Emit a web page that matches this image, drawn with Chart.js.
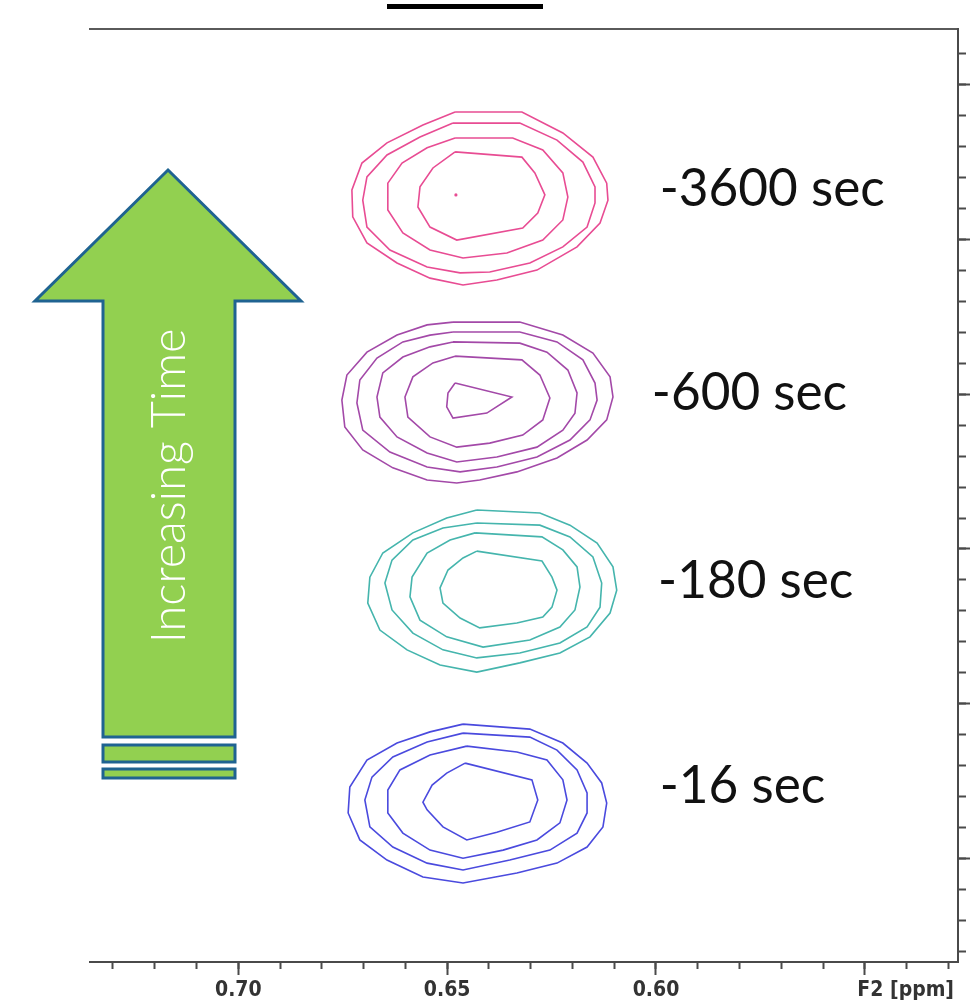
<!DOCTYPE html>
<html lang="en">
<head>
<meta charset="UTF-8" />
<title>F2 contour series</title>
<style>
  html, body { margin: 0; padding: 0; background: #fff; }
  #wrap { width: 971px; height: 1002px; }
</style>
<script src="https://cdn.jsdelivr.net/npm/chart.js"></script>
</head>
<body>
<div id="wrap"><canvas id="nmrChart" width="971" height="1002"></canvas></div>
<script>
// contour rings as [F2 ppm, F1] pairs, outermost ring first
const contours3600 = [
  [[0.6481,1.088],[0.6321,1.088],[0.6223,1.156],[0.6151,1.234],[0.6118,1.318],[0.6115,1.373],[0.6134,1.447],[0.6189,1.524],[0.6285,1.599],[0.6381,1.631],[0.6462,1.647],[0.6541,1.625],[0.6620,1.576],[0.6692,1.511],[0.6726,1.427],[0.6728,1.340],[0.6704,1.253],[0.6644,1.188],[0.6558,1.130]],
  [[0.6486,1.124],[0.6326,1.124],[0.6237,1.179],[0.6175,1.250],[0.6146,1.330],[0.6146,1.382],[0.6165,1.460],[0.6223,1.524],[0.6302,1.576],[0.6398,1.605],[0.6469,1.608],[0.6548,1.589],[0.6637,1.534],[0.6692,1.460],[0.6702,1.373],[0.6692,1.298],[0.6644,1.227],[0.6565,1.169]],
  [[0.6481,1.172],[0.6343,1.172],[0.6271,1.211],[0.6223,1.285],[0.6211,1.363],[0.6223,1.437],[0.6271,1.502],[0.6357,1.544],[0.6462,1.560],[0.6541,1.534],[0.6606,1.479],[0.6642,1.405],[0.6642,1.318],[0.6608,1.253],[0.6548,1.204]],
  [[0.6481,1.217],[0.6321,1.234],[0.6290,1.285],[0.6266,1.356],[0.6283,1.415],[0.6319,1.463],[0.6477,1.502],[0.6541,1.460],[0.6570,1.395],[0.6565,1.330],[0.6534,1.269]]
];
const peak3600 = [[0.6479,1.356]];

const contours600 = [
  [[0.6486,1.767],[0.6326,1.767],[0.6223,1.809],[0.6151,1.867],[0.6110,1.944],[0.6103,2.009],[0.6118,2.083],[0.6165,2.148],[0.6237,2.206],[0.6333,2.251],[0.6422,2.277],[0.6477,2.287],[0.6548,2.277],[0.6630,2.238],[0.6702,2.180],[0.6745,2.106],[0.6752,2.019],[0.6740,1.938],[0.6692,1.864],[0.6620,1.809],[0.6548,1.776]],
  [[0.6486,1.799],[0.6326,1.799],[0.6237,1.831],[0.6175,1.889],[0.6146,1.964],[0.6141,2.019],[0.6158,2.083],[0.6206,2.148],[0.6285,2.203],[0.6381,2.235],[0.6469,2.251],[0.6548,2.235],[0.6637,2.187],[0.6702,2.116],[0.6716,2.028],[0.6709,1.954],[0.6668,1.883],[0.6606,1.831],[0.6541,1.809]],
  [[0.6486,1.831],[0.6326,1.835],[0.6261,1.864],[0.6211,1.922],[0.6189,1.996],[0.6194,2.061],[0.6223,2.116],[0.6285,2.171],[0.6381,2.203],[0.6477,2.219],[0.6548,2.190],[0.6620,2.138],[0.6661,2.074],[0.6668,2.009],[0.6654,1.931],[0.6606,1.880],[0.6541,1.847]],
  [[0.6481,1.877],[0.6321,1.889],[0.6278,1.938],[0.6254,2.012],[0.6271,2.083],[0.6319,2.132],[0.6398,2.158],[0.6477,2.171],[0.6541,2.138],[0.6594,2.074],[0.6601,2.009],[0.6582,1.944],[0.6534,1.899]],
  [[0.6481,1.964],[0.6345,2.009],[0.6405,2.061],[0.6486,2.077],[0.6501,2.041],[0.6498,1.996]]
];

const contours180 = [
  [[0.6429,2.374],[0.6278,2.384],[0.6206,2.423],[0.6141,2.481],[0.6103,2.558],[0.6094,2.633],[0.6110,2.707],[0.6158,2.784],[0.6230,2.836],[0.6326,2.868],[0.6429,2.898],[0.6517,2.875],[0.6596,2.826],[0.6661,2.762],[0.6690,2.675],[0.6685,2.591],[0.6654,2.513],[0.6582,2.448],[0.6501,2.400]],
  [[0.6429,2.416],[0.6278,2.423],[0.6206,2.461],[0.6151,2.526],[0.6130,2.610],[0.6134,2.688],[0.6165,2.752],[0.6230,2.804],[0.6326,2.836],[0.6429,2.852],[0.6510,2.826],[0.6582,2.772],[0.6632,2.697],[0.6649,2.610],[0.6632,2.536],[0.6582,2.471],[0.6510,2.432]],
  [[0.6433,2.448],[0.6273,2.461],[0.6223,2.503],[0.6189,2.558],[0.6182,2.623],[0.6194,2.697],[0.6230,2.752],[0.6302,2.794],[0.6414,2.817],[0.6501,2.784],[0.6565,2.730],[0.6589,2.655],[0.6584,2.591],[0.6548,2.513],[0.6493,2.471]],
  [[0.6429,2.507],[0.6273,2.539],[0.6249,2.591],[0.6237,2.633],[0.6249,2.688],[0.6271,2.720],[0.6333,2.739],[0.6422,2.755],[0.6469,2.723],[0.6510,2.675],[0.6517,2.626],[0.6498,2.568],[0.6462,2.529]]
];

const contours16 = [
  [[0.6462,3.066],[0.6302,3.082],[0.6223,3.127],[0.6165,3.192],[0.6130,3.256],[0.6118,3.321],[0.6127,3.398],[0.6165,3.463],[0.6237,3.515],[0.6333,3.547],[0.6462,3.579],[0.6558,3.560],[0.6644,3.505],[0.6709,3.440],[0.6737,3.353],[0.6733,3.269],[0.6692,3.182],[0.6620,3.127],[0.6541,3.091]],
  [[0.6462,3.095],[0.6302,3.108],[0.6237,3.150],[0.6189,3.214],[0.6165,3.288],[0.6165,3.353],[0.6189,3.418],[0.6254,3.473],[0.6350,3.505],[0.6462,3.537],[0.6548,3.515],[0.6630,3.463],[0.6685,3.398],[0.6697,3.311],[0.6680,3.237],[0.6630,3.172],[0.6548,3.124]],
  [[0.6453,3.137],[0.6333,3.156],[0.6261,3.182],[0.6223,3.246],[0.6213,3.311],[0.6230,3.385],[0.6285,3.440],[0.6366,3.473],[0.6462,3.499],[0.6541,3.473],[0.6606,3.418],[0.6642,3.353],[0.6642,3.279],[0.6613,3.214],[0.6541,3.166]],
  [[0.6457,3.192],[0.6297,3.246],[0.6283,3.311],[0.6302,3.382],[0.6381,3.415],[0.6453,3.440],[0.6510,3.398],[0.6548,3.343],[0.6558,3.318],[0.6536,3.263],[0.6501,3.224]]
];

const timeLabels = ['-3600 sec', '-600 sec', '-180 sec', '-16 sec'];
const labelF2 = [0.5991, 0.6010, 0.5995, 0.5991];
const labelF1 = [1.340, 1.996, 2.604, 3.266];

const f2Ticks = [0.70, 0.65, 0.60, 0.55];
const f2TickLabels = ['0.70', '0.65', '0.60', ''];
const f2Min = 0.5277, f2Max = 0.7355;
const f1Min = 0.82, f1Max = 3.8345;

const seriesColors = ['#e84c93', '#a349a8', '#45b5ad', '#4a4ade'];
const axisColor = '#4a4a4a';
const tickFont = '"DejaVu Sans Condensed", "DejaVu Sans", sans-serif';
const textFont = 'Lato, "Open Sans", sans-serif';

function ring(points) {
  const pts = points.map(p => ({x: p[0], y: p[1]}));
  pts.push({x: points[0][0], y: points[0][1]});
  return pts;
}

const datasets = [];
[contours3600, contours600, contours180, contours16].forEach((group, gi) => {
  group.forEach(r => {
    datasets.push({
      data: ring(r),
      showLine: true,
      borderColor: seriesColors[gi],
      borderWidth: 1.6,
      pointRadius: 0,
      fill: false,
      tension: 0
    });
  });
});
datasets.push({
  data: peak3600.map(p => ({x: p[0], y: p[1]})),
  showLine: false,
  pointRadius: 1.6,
  pointBackgroundColor: seriesColors[0],
  pointBorderWidth: 0
});

const overlay = {
  id: 'overlay',
  afterDraw(chart) {
    const {ctx, scales} = chart;
    const x = scales.x, y = scales.y;
    ctx.save();

    // stray bar above the frame
    ctx.fillStyle = '#000';
    ctx.fillRect(387, 4, 156, 5);

    // time labels
    ctx.font = '400 100px ' + textFont;
    const size = 100 * 225 / ctx.measureText(timeLabels[0]).width;
    ctx.font = '400 ' + size.toFixed(1) + 'px ' + textFont;
    ctx.fillStyle = '#111';
    ctx.textAlign = 'left';
    ctx.textBaseline = 'middle';
    timeLabels.forEach((t, i) => {
      ctx.fillText(t, x.getPixelForValue(labelF2[i]), y.getPixelForValue(labelF1[i]));
    });

    // axis name in place of the last tick label
    ctx.font = 'bold 21px ' + tickFont;
    ctx.fillStyle = '#333';
    ctx.textAlign = 'right';
    ctx.fillText('F2 [ppm]', x.right - 4, 991);

    // "increasing time" arrow
    ctx.beginPath();
    ctx.moveTo(168, 170);
    ctx.lineTo(301, 301);
    ctx.lineTo(235, 301);
    ctx.lineTo(235, 737);
    ctx.lineTo(103, 737);
    ctx.lineTo(103, 301);
    ctx.lineTo(35, 301);
    ctx.closePath();
    ctx.fillStyle = '#92d050';
    ctx.fill();
    ctx.lineWidth = 3;
    ctx.lineJoin = 'miter';
    ctx.strokeStyle = '#1f6391';
    ctx.stroke();
    [[745, 17], [769, 9]].forEach(b => {
      ctx.fillRect(103, b[0], 132, b[1]);
      ctx.strokeRect(103, b[0], 132, b[1]);
    });

    ctx.font = '300 100px ' + textFont;
    const tsize = 100 * 315 / ctx.measureText('Increasing Time').width;
    ctx.font = '300 ' + tsize.toFixed(1) + 'px ' + textFont;
    ctx.translate(185, 486);
    ctx.rotate(-Math.PI / 2);
    ctx.fillStyle = '#fff';
    ctx.textAlign = 'center';
    ctx.textBaseline = 'alphabetic';
    ctx.fillText('Increasing Time', 0, 0);
    ctx.restore();
  }
};

const ctx = document.getElementById('nmrChart').getContext('2d');
new Chart(ctx, {
  type: 'scatter',
  data: {datasets: datasets},
  options: {
    responsive: false,
    animation: false,
    events: [],
    layout: {padding: {left: 90, top: 29, right: 0, bottom: 0}},
    plugins: {legend: {display: false}, tooltip: {enabled: false}},
    scales: {
      x: {
        type: 'linear', position: 'bottom', reverse: true, min: f2Min, max: f2Max, weight: 0,
        afterFit: s => { s.height = 0; },
        border: {display: true, color: axisColor, width: 2},
        grid: {drawOnChartArea: false, tickLength: 7, tickColor: axisColor, tickWidth: 2},
        ticks: {display: false, stepSize: 0.01, includeBounds: false}
      },
      xMajor: {
        type: 'linear', position: 'bottom', reverse: true, min: f2Min, max: f2Max, weight: 1,
        afterFit: s => { s.height = 40; },
        afterBuildTicks: s => { s.ticks = f2Ticks.map(v => ({value: v})); },
        border: {display: false},
        grid: {drawOnChartArea: false, tickLength: 13, tickColor: axisColor, tickWidth: 2},
        ticks: {
          padding: 3, color: '#333', maxRotation: 0, autoSkip: false,
          font: {family: tickFont, size: 21, weight: 'bold'},
          callback: (v) => f2TickLabels[f2Ticks.indexOf(v)]
        }
      },
      xTop: {
        type: 'linear', position: 'top', reverse: true, min: f2Min, max: f2Max,
        afterFit: s => { s.height = 0; },
        border: {display: true, color: '#5a5a5a', width: 2},
        grid: {display: false, drawTicks: false},
        ticks: {display: false}
      },
      y: {
        type: 'linear', position: 'right', reverse: true, min: f1Min, max: f1Max, weight: 0,
        afterFit: s => { s.width = 0; },
        border: {display: true, color: axisColor, width: 2},
        grid: {drawOnChartArea: false, tickLength: 8, tickColor: axisColor, tickWidth: 2},
        ticks: {display: false, stepSize: 0.1, includeBounds: false}
      },
      yMajor: {
        type: 'linear', position: 'right', reverse: true, min: f1Min, max: f1Max, weight: 1,
        afterFit: s => { s.width = 13; },
        border: {display: false},
        grid: {drawOnChartArea: false, tickLength: 12, tickColor: axisColor, tickWidth: 2},
        ticks: {display: false, stepSize: 0.5, includeBounds: false}
      }
    }
  },
  plugins: [overlay]
});
</script>
</body>
</html>
